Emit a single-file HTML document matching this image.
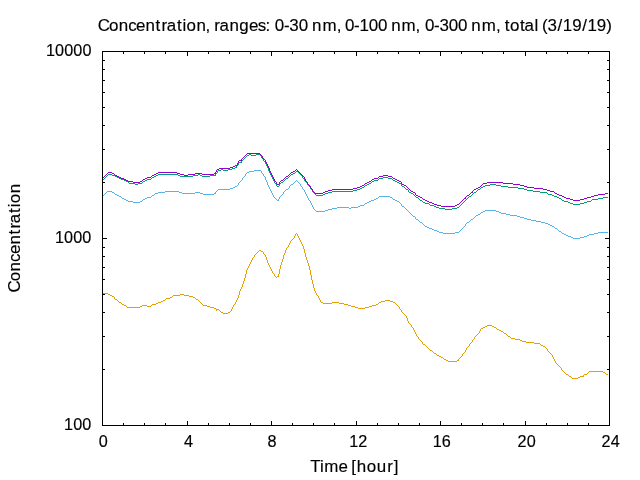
<!DOCTYPE html>
<html lang="en">
<head>
<meta charset="utf-8">
<title>Concentration, ranges: 0-30 nm, 0-100 nm, 0-300 nm, total (3/19/19)</title>
<style>
html,body{margin:0;padding:0;background:#fff;}
body{width:640px;height:480px;overflow:hidden;}
svg{display:block;}
text{font-family:"Liberation Sans","DejaVu Sans",sans-serif;fill:#000;stroke:#000;stroke-width:0.15px;stroke-linejoin:round;white-space:pre;}
</style>
</head>
<body>
<svg width="640" height="480" viewBox="0 0 640 480">
<rect x="0" y="0" width="640" height="480" fill="#ffffff"/>
<g class="labels">
<text class="title" transform="scale(1.04,1)" x="94.08 104.85 114.28 123.21 130.80 139.88 149.56 155.32 160.25 170.13 175.47 179.39 188.83 197.63 202.23 206.02 210.97 220.69 230.13 239.31 247.88 255.34 259.67 264.31 273.09 278.24 287.16 296.15 300.09 310.12 323.85 328.51 331.63 340.43 345.60 354.55 363.49 372.50 376.13 385.96 399.54 404.16 408.55 417.36 422.53 431.47 440.42 449.42 453.12 463.18 476.93 481.60 485.24 490.47 500.00 504.27 513.86 517.65 521.12 526.50 536.14 541.24 550.18 559.82 564.93 573.86 582.87" y="30.90" font-size="16.3">Concentration, ranges: 0-30 nm, 0-100 nm, 0-300 nm, total (3/19/19)</text>
<text class="axlabel" transform="scale(1.04,1)" x="298.33 307.71 311.83 325.53 334.31 337.83 343.08 352.71 362.28 372.38 378.61" y="471.75" font-size="16.3">Time [hour]</text>
<text class="axlabel" transform="rotate(-90) scale(1.04,1)" x="-281.36 -270.52 -261.01 -252.01 -244.35 -235.20 -225.45 -219.64 -214.65 -204.71 -199.33 -195.35 -185.84" y="20.10" font-size="16.3">Concentration</text>
</g>
<g class="ytics"><text class="tic" transform="scale(1.04,1)" x="44.13 52.93 61.73 70.53 79.33" y="56.00" font-size="15.6">10000</text><text class="tic" transform="scale(1.04,1)" x="52.78 61.58 70.38 79.18" y="243.00" font-size="15.6">1000</text><text class="tic" transform="scale(1.04,1)" x="61.58 70.38 79.18" y="430.00" font-size="15.6">100</text></g>
<g class="xtics"><text class="tic" transform="scale(1.04,1)" x="94.98" y="447.00" font-size="15.6">0</text><text class="tic" transform="scale(1.04,1)" x="176.90" y="447.00" font-size="15.6">4</text><text class="tic" transform="scale(1.04,1)" x="257.24" y="447.00" font-size="15.6">8</text><text class="tic" transform="scale(1.04,1)" x="335.71 344.51" y="447.00" font-size="15.6">12</text><text class="tic" transform="scale(1.04,1)" x="416.00 424.80" y="447.00" font-size="15.6">16</text><text class="tic" transform="scale(1.04,1)" x="497.64 506.44" y="447.00" font-size="15.6">20</text><text class="tic" transform="scale(1.04,1)" x="578.41 587.21" y="447.00" font-size="15.6">24</text></g>
<g class="series">
<path d="M103 293.5h5M108 294.5h2M110 295.5h2M112 296.5h2M114 297.5h1M114 298.5h1M115 299.5h2M117 300.5h1M118 301.5h1M119 302.5h2M121 303.5h1M122 304.5h2M124 305.5h2M126 306.5h1M127 307.5h13M140 306.5h2M142 305.5h5M147 306.5h4M151 305.5h1M152 304.5h4M156 303.5h2M158 302.5h3M161 301.5h2M163 300.5h2M165 299.5h1M166 298.5h4M170 297.5h2M172 296.5h1M173 295.5h7M180 294.5h4M184 295.5h5M189 296.5h4M193 297.5h2M195 298.5h1M196 299.5h2M198 300.5h1M199 301.5h1M200 302.5h1M201 303.5h1M202 304.5h1M203 305.5h4M207 306.5h3M210 307.5h4M214 308.5h2M216 310.5h1M216 309.5h3M219 310.5h1M220 311.5h1M221 312.5h2M223 313.5h5M228 312.5h2M230 311.5h1M231 309.5h1M231 310.5h1M232 307.5h1M232 308.5h1M233 305.5h1M233 306.5h1M234 304.5h1M235 302.5h1M235 303.5h1M236 300.5h1M236 301.5h1M237 298.5h1M237 299.5h1M238 295.5h1M238 296.5h1M238 297.5h1M239 291.5h1M239 292.5h1M239 293.5h1M239 294.5h1M240 289.5h1M240 290.5h1M241 287.5h1M241 288.5h1M242 284.5h1M242 285.5h1M242 286.5h1M243 281.5h1M243 282.5h1M243 283.5h1M244 278.5h1M244 279.5h1M244 280.5h1M245 274.5h1M245 275.5h1M245 276.5h1M245 277.5h1M246 270.5h1M246 271.5h1M246 272.5h1M246 273.5h1M247 268.5h1M247 269.5h1M248 266.5h1M248 267.5h1M249 264.5h1M249 265.5h1M250 262.5h1M250 263.5h1M251 260.5h1M251 261.5h1M252 258.5h1M252 259.5h1M253 257.5h1M254 255.5h1M254 256.5h1M255 254.5h1M256 253.5h1M257 252.5h1M258 251.5h1M259 250.5h2M261 251.5h2M263 252.5h1M263 253.5h1M264 254.5h1M265 255.5h1M265 256.5h1M266 257.5h1M266 258.5h1M266 259.5h1M267 260.5h1M267 261.5h1M267 262.5h1M268 263.5h1M268 264.5h1M269 265.5h1M269 266.5h1M270 267.5h1M270 268.5h1M271 269.5h1M271 270.5h1M272 271.5h1M272 272.5h1M273 273.5h1M274 274.5h1M274 275.5h1M275 276.5h1M276 277.5h1M277 276.5h2M278 274.5h1M278 275.5h1M279 269.5h1M279 270.5h1M279 271.5h1M279 272.5h1M279 273.5h1M280 265.5h1M280 266.5h1M280 267.5h1M280 268.5h1M281 262.5h1M281 263.5h1M281 264.5h1M282 259.5h1M282 260.5h1M282 261.5h1M283 255.5h1M283 256.5h1M283 257.5h1M283 258.5h1M284 253.5h1M284 254.5h1M285 250.5h1M285 251.5h1M285 252.5h1M286 248.5h1M286 249.5h1M287 247.5h1M288 245.5h1M288 246.5h1M289 243.5h1M289 244.5h1M290 241.5h1M290 242.5h1M291 240.5h1M292 239.5h1M293 238.5h1M294 236.5h1M294 237.5h1M295 234.5h1M295 235.5h1M296 233.5h1M297 234.5h1M297 235.5h1M298 236.5h1M298 237.5h1M299 238.5h1M299 239.5h1M300 240.5h1M300 241.5h1M301 242.5h1M301 243.5h1M302 244.5h1M302 245.5h1M303 246.5h1M303 247.5h1M303 248.5h1M304 249.5h1M304 250.5h1M304 251.5h1M304 252.5h1M305 253.5h1M305 254.5h1M305 255.5h1M305 256.5h1M306 257.5h1M306 258.5h1M306 259.5h1M307 260.5h1M307 261.5h1M307 262.5h1M308 263.5h1M308 264.5h1M308 265.5h1M309 266.5h1M309 267.5h1M309 268.5h1M309 269.5h1M310 270.5h1M310 271.5h1M310 272.5h1M310 273.5h1M310 274.5h1M311 275.5h1M311 276.5h1M311 277.5h1M311 278.5h1M311 279.5h1M312 280.5h1M312 281.5h1M312 282.5h1M312 283.5h1M313 284.5h1M313 285.5h1M313 286.5h1M313 287.5h1M314 288.5h1M314 289.5h1M314 290.5h1M315 291.5h1M315 292.5h1M316 293.5h1M316 294.5h1M317 295.5h1M318 296.5h1M318 297.5h1M319 298.5h1M319 299.5h1M320 300.5h1M320 301.5h1M321 302.5h2M323 303.5h9M332 302.5h7M339 303.5h5M344 304.5h4M348 305.5h3M351 306.5h4M355 307.5h3M358 308.5h7M365 307.5h4M369 306.5h3M372 305.5h4M376 304.5h2M378 303.5h1M379 302.5h2M381 301.5h4M385 300.5h5M390 301.5h3M393 302.5h2M395 303.5h1M396 304.5h1M397 305.5h1M398 306.5h1M399 307.5h1M399 308.5h1M400 309.5h1M401 310.5h1M401 311.5h1M402 312.5h1M403 313.5h1M404 314.5h1M405 315.5h1M406 316.5h1M406 317.5h1M407 318.5h1M407 319.5h1M407 320.5h1M408 321.5h1M408 322.5h1M409 323.5h1M410 324.5h1M411 325.5h1M411 326.5h1M412 327.5h1M413 328.5h1M413 329.5h1M414 330.5h1M414 331.5h1M415 332.5h1M415 333.5h1M416 334.5h1M416 335.5h1M417 336.5h1M418 337.5h1M418 338.5h1M419 339.5h1M420 340.5h1M421 341.5h1M422 342.5h1M422 343.5h1M423 344.5h2M425 345.5h1M426 346.5h1M427 347.5h1M428 348.5h1M429 349.5h1M430 350.5h2M432 351.5h1M433 352.5h1M434 353.5h2M436 354.5h1M437 355.5h2M439 356.5h2M441 357.5h2M443 358.5h1M444 359.5h2M446 360.5h2M448 361.5h9M457 360.5h2M458 359.5h1M459 358.5h1M460 357.5h1M461 356.5h1M462 354.5h1M462 355.5h1M463 353.5h1M464 352.5h1M465 350.5h1M465 351.5h1M466 348.5h1M466 349.5h1M467 347.5h1M468 346.5h1M469 344.5h1M469 345.5h1M470 343.5h1M471 342.5h1M472 340.5h1M472 341.5h1M473 339.5h1M474 337.5h1M474 338.5h1M475 336.5h1M476 335.5h1M477 334.5h1M478 333.5h1M479 331.5h1M479 332.5h1M480 329.5h1M480 330.5h1M481 328.5h2M483 327.5h2M485 326.5h2M487 325.5h5M492 326.5h2M494 327.5h2M496 328.5h1M497 329.5h2M499 330.5h2M501 331.5h2M503 332.5h1M504 333.5h2M506 334.5h1M507 335.5h1M508 336.5h2M510 337.5h1M511 338.5h4M515 339.5h5M520 340.5h2M522 341.5h4M526 342.5h8M534 343.5h6M540 344.5h1M541 345.5h2M543 346.5h2M545 347.5h1M546 348.5h1M547 349.5h1M547 350.5h1M548 351.5h1M549 352.5h1M550 353.5h1M551 354.5h1M552 355.5h1M552 356.5h1M553 357.5h1M553 358.5h1M554 359.5h1M554 360.5h1M555 361.5h1M555 362.5h1M556 363.5h1M557 364.5h1M558 365.5h1M559 366.5h1M560 367.5h1M561 368.5h1M561 369.5h1M562 370.5h1M563 371.5h1M564 372.5h1M565 373.5h1M566 374.5h2M568 375.5h1M569 376.5h2M571 377.5h1M572 378.5h6M578 377.5h2M580 376.5h4M583 375.5h1M584 374.5h3M587 373.5h1M588 372.5h1M589 371.5h14M603 372.5h2M605 373.5h1M606 374.5h2" fill="none" stroke="#e69f00" stroke-width="1" shape-rendering="crispEdges"/>
<path d="M103 195.5h1M104 194.5h1M105 193.5h1M106 192.5h1M107 191.5h5M112 192.5h2M114 193.5h1M115 194.5h2M117 195.5h2M119 196.5h2M121 197.5h1M122 198.5h2M124 199.5h2M126 200.5h2M128 201.5h5M133 202.5h7M140 201.5h2M142 200.5h1M143 199.5h2M145 198.5h2M147 197.5h4M151 196.5h1M152 195.5h2M154 194.5h1M155 193.5h3M158 192.5h7M165 191.5h14M179 192.5h3M182 193.5h13M195 192.5h5M200 193.5h3M203 194.5h11M214 193.5h2M215 192.5h1M216 191.5h1M217 190.5h1M218 189.5h12M230 188.5h3M233 187.5h2M235 186.5h2M237 185.5h1M238 183.5h1M238 184.5h1M239 182.5h1M240 181.5h1M241 180.5h1M242 178.5h1M242 179.5h1M243 177.5h1M244 176.5h1M245 174.5h1M245 175.5h1M246 173.5h1M247 172.5h2M249 171.5h5M254 170.5h7M261 171.5h1M261 172.5h1M262 173.5h1M263 174.5h1M263 175.5h1M264 176.5h1M265 177.5h1M265 178.5h1M265 179.5h1M266 180.5h1M266 181.5h1M267 182.5h1M267 183.5h1M267 184.5h1M268 185.5h1M268 186.5h1M269 187.5h1M269 188.5h1M270 189.5h1M270 190.5h1M271 191.5h1M271 192.5h1M272 193.5h1M272 194.5h1M273 195.5h1M273 196.5h1M274 197.5h1M275 198.5h1M276 199.5h1M277 200.5h2M278 199.5h1M279 197.5h1M279 198.5h1M280 196.5h1M281 195.5h1M282 194.5h1M283 192.5h1M283 193.5h1M284 191.5h1M285 190.5h1M286 189.5h2M288 188.5h1M289 186.5h1M289 187.5h1M290 185.5h1M291 184.5h2M293 183.5h1M294 182.5h1M295 181.5h1M296 180.5h1M297 181.5h1M298 182.5h1M299 183.5h1M300 184.5h1M300 185.5h1M301 186.5h1M302 187.5h1M302 188.5h1M303 189.5h1M304 190.5h1M304 191.5h1M305 192.5h1M305 193.5h1M306 194.5h1M306 195.5h1M307 196.5h1M307 197.5h1M308 198.5h1M308 199.5h1M309 200.5h1M310 201.5h1M310 202.5h1M311 203.5h1M311 204.5h1M312 205.5h1M312 206.5h1M313 207.5h1M313 208.5h1M314 209.5h1M315 210.5h1M316 211.5h9M325 210.5h3M328 209.5h4M332 208.5h5M337 207.5h12M349 208.5h2M351 207.5h7M358 206.5h2M360 205.5h4M364 204.5h1M365 203.5h2M367 202.5h2M369 201.5h2M371 200.5h3M374 199.5h2M376 198.5h2M378 197.5h1M379 196.5h11M390 197.5h2M392 198.5h1M393 199.5h2M395 200.5h2M397 201.5h2M399 202.5h1M400 203.5h1M401 204.5h1M401 205.5h1M402 206.5h2M404 207.5h1M405 208.5h1M406 209.5h1M407 210.5h1M408 211.5h1M409 212.5h1M410 213.5h1M411 214.5h1M412 215.5h1M413 216.5h2M415 217.5h1M415 218.5h1M416 219.5h2M418 220.5h1M419 221.5h1M420 222.5h2M422 223.5h1M423 224.5h1M424 225.5h1M425 226.5h2M427 227.5h2M429 228.5h3M432 229.5h2M434 230.5h3M437 231.5h2M439 232.5h4M443 233.5h12M455 232.5h4M459 231.5h1M460 230.5h1M461 229.5h1M462 228.5h1M463 227.5h1M464 226.5h1M465 224.5h1M465 225.5h1M466 223.5h1M467 222.5h2M469 221.5h1M470 220.5h1M471 219.5h2M473 218.5h1M474 217.5h1M475 216.5h1M476 215.5h2M478 214.5h2M480 213.5h1M481 212.5h2M483 211.5h2M485 210.5h11M496 211.5h3M499 212.5h2M501 213.5h5M506 214.5h4M510 215.5h7M517 216.5h3M520 217.5h4M524 218.5h3M527 219.5h4M531 220.5h5M536 221.5h5M541 222.5h4M545 223.5h3M548 224.5h2M550 225.5h2M552 226.5h2M554 227.5h1M555 228.5h2M557 229.5h1M558 230.5h1M559 231.5h2M561 232.5h1M562 233.5h2M564 234.5h2M566 235.5h2M568 236.5h3M571 237.5h2M573 238.5h7M580 237.5h4M584 236.5h3M587 235.5h2M589 234.5h5M594 233.5h4M598 232.5h10" fill="none" stroke="#56b4e9" stroke-width="1" shape-rendering="crispEdges"/>
<path d="M103 179.5h1M104 178.5h1M105 177.5h1M106 176.5h1M107 175.5h1M108 174.5h4M112 175.5h3M115 176.5h2M117 177.5h2M119 178.5h2M121 179.5h3M124 180.5h2M126 181.5h2M128 182.5h1M129 183.5h6M135 184.5h3M138 183.5h4M142 182.5h1M143 181.5h2M145 180.5h2M147 179.5h4M151 178.5h1M152 177.5h2M154 176.5h2M156 175.5h2M158 174.5h20M178 175.5h2M180 176.5h13M193 175.5h5M198 174.5h2M200 175.5h2M202 176.5h8M210 175.5h6M215 174.5h1M216 173.5h1M217 171.5h1M217 172.5h1M218 170.5h3M221 169.5h2M223 170.5h5M228 169.5h4M232 168.5h3M235 167.5h2M236 166.5h1M237 165.5h1M238 163.5h1M238 164.5h1M239 162.5h3M241 161.5h1M242 160.5h1M243 159.5h1M244 158.5h1M245 157.5h1M246 156.5h1M247 155.5h2M249 154.5h2M251 155.5h5M256 154.5h4M260 155.5h1M261 156.5h1M261 157.5h1M262 158.5h1M263 159.5h1M263 160.5h1M264 161.5h1M265 162.5h1M265 163.5h1M266 164.5h1M266 165.5h1M267 166.5h1M267 167.5h1M268 168.5h1M268 169.5h1M268 170.5h1M269 171.5h1M269 172.5h1M270 173.5h1M270 174.5h1M271 175.5h1M271 176.5h1M272 177.5h1M272 178.5h1M273 179.5h1M273 180.5h1M274 181.5h1M274 182.5h1M275 183.5h1M276 184.5h1M276 185.5h1M277 186.5h2M279 184.5h1M279 185.5h1M280 183.5h1M281 182.5h2M283 181.5h1M284 180.5h1M285 179.5h1M286 178.5h2M288 177.5h1M289 176.5h1M290 175.5h1M291 174.5h2M293 173.5h2M295 172.5h1M296 171.5h2M298 172.5h1M299 173.5h1M300 174.5h1M301 175.5h1M302 176.5h1M302 177.5h1M303 178.5h1M304 179.5h1M304 180.5h1M305 181.5h1M306 182.5h1M307 183.5h1M307 184.5h1M308 185.5h1M309 186.5h1M310 187.5h1M310 188.5h1M311 189.5h1M312 190.5h1M312 191.5h1M313 192.5h1M314 193.5h1M315 194.5h1M316 195.5h7M323 194.5h2M325 193.5h3M328 192.5h4M332 191.5h21M353 190.5h4M357 189.5h3M360 188.5h2M362 187.5h2M364 186.5h1M365 185.5h2M367 184.5h2M369 183.5h2M371 182.5h1M372 181.5h2M374 180.5h4M378 179.5h1M379 178.5h4M383 177.5h5M388 178.5h4M392 179.5h1M393 180.5h2M395 181.5h2M397 182.5h2M399 183.5h2M401 184.5h1M401 185.5h1M402 186.5h2M404 187.5h1M405 188.5h1M406 189.5h2M408 190.5h1M408 191.5h1M409 192.5h2M411 193.5h2M413 194.5h1M414 195.5h1M415 196.5h1M416 197.5h2M418 198.5h1M419 199.5h1M420 200.5h2M422 201.5h1M423 202.5h2M425 203.5h4M429 204.5h1M430 205.5h4M434 206.5h2M436 207.5h3M439 208.5h6M445 209.5h7M452 208.5h5M457 207.5h2M459 206.5h1M460 205.5h1M461 204.5h1M462 203.5h1M463 202.5h1M464 201.5h1M465 200.5h1M466 199.5h1M467 198.5h1M468 197.5h1M469 196.5h2M471 195.5h1M472 194.5h1M473 193.5h1M474 192.5h2M476 191.5h1M477 190.5h1M478 189.5h2M480 188.5h1M481 187.5h2M483 186.5h2M485 185.5h5M490 184.5h6M496 185.5h5M501 186.5h7M508 187.5h10M518 188.5h6M524 189.5h3M527 190.5h6M533 191.5h7M540 192.5h7M547 193.5h1M548 194.5h4M552 195.5h2M554 196.5h3M557 197.5h2M559 198.5h2M561 199.5h1M562 200.5h2M564 201.5h4M568 202.5h2M570 203.5h3M573 204.5h7M580 203.5h4M584 202.5h3M587 201.5h4M591 200.5h1M592 199.5h6M598 198.5h5M603 197.5h5" fill="none" stroke="#009e73" stroke-width="1" shape-rendering="crispEdges"/>
<path d="M103 177.5h1M104 176.5h1M105 175.5h1M106 174.5h1M107 173.5h1M108 172.5h4M112 173.5h2M114 174.5h1M115 175.5h2M117 176.5h2M119 177.5h2M121 178.5h3M124 179.5h2M126 180.5h2M128 181.5h5M133 182.5h7M140 181.5h2M142 180.5h1M143 179.5h2M145 178.5h2M147 177.5h4M151 176.5h1M152 175.5h2M154 174.5h2M156 173.5h2M158 172.5h19M177 173.5h3M180 174.5h4M184 175.5h4M188 174.5h7M195 173.5h7M202 174.5h12M214 173.5h2M215 172.5h1M216 170.5h1M216 171.5h1M217 169.5h2M219 168.5h11M230 167.5h3M233 166.5h2M235 165.5h2M237 163.5h1M237 164.5h1M238 161.5h1M238 162.5h1M239 160.5h3M241 159.5h1M242 158.5h1M243 157.5h1M244 156.5h1M245 155.5h1M246 154.5h1M247 153.5h13M260 154.5h1M261 155.5h1M262 156.5h1M262 157.5h1M263 158.5h1M264 159.5h1M265 160.5h1M265 161.5h1M266 162.5h1M266 163.5h1M267 164.5h1M267 165.5h1M268 166.5h1M268 167.5h1M269 168.5h1M269 169.5h1M269 170.5h1M270 171.5h1M270 172.5h1M271 173.5h1M271 174.5h1M272 175.5h1M272 176.5h1M273 177.5h1M273 178.5h1M274 179.5h1M274 180.5h1M275 181.5h1M276 182.5h1M276 183.5h1M277 184.5h2M279 182.5h1M279 183.5h1M280 181.5h1M281 180.5h2M283 179.5h1M284 178.5h1M285 177.5h1M286 176.5h2M288 175.5h1M289 174.5h1M290 173.5h1M291 172.5h2M293 171.5h2M295 170.5h1M296 169.5h1M297 170.5h1M298 171.5h1M299 172.5h1M300 173.5h1M301 174.5h1M302 175.5h1M303 176.5h1M304 177.5h1M304 178.5h1M305 179.5h1M305 180.5h1M306 181.5h1M307 182.5h1M307 183.5h1M308 184.5h1M309 185.5h1M310 186.5h1M310 187.5h1M311 188.5h1M312 189.5h1M312 190.5h1M313 191.5h1M314 192.5h1M315 193.5h8M323 192.5h2M325 191.5h3M328 190.5h4M332 189.5h21M353 188.5h4M357 187.5h3M360 186.5h2M362 185.5h2M364 184.5h1M365 183.5h2M367 182.5h2M369 181.5h2M371 180.5h1M372 179.5h2M374 178.5h4M378 177.5h1M379 176.5h4M383 175.5h5M388 176.5h4M392 177.5h1M393 178.5h2M395 179.5h2M397 180.5h2M399 181.5h2M401 182.5h1M401 183.5h1M402 184.5h2M404 185.5h2M406 186.5h1M407 187.5h1M408 188.5h1M409 189.5h1M410 190.5h1M411 191.5h2M413 192.5h2M415 193.5h1M415 194.5h1M416 195.5h2M418 196.5h2M420 197.5h2M422 198.5h1M423 199.5h2M425 200.5h2M427 201.5h2M429 202.5h3M432 203.5h2M434 204.5h3M437 205.5h4M441 206.5h14M455 205.5h2M457 204.5h2M459 203.5h1M460 202.5h1M461 201.5h1M462 200.5h1M463 199.5h1M464 198.5h2M465 197.5h1M466 196.5h1M467 195.5h2M469 194.5h1M470 193.5h1M471 192.5h2M472 191.5h1M473 190.5h1M474 189.5h2M476 188.5h2M478 187.5h2M480 186.5h1M481 185.5h1M482 184.5h1M483 183.5h4M487 182.5h16M503 183.5h10M513 184.5h7M520 185.5h4M524 186.5h3M527 187.5h7M534 188.5h9M543 189.5h4M547 190.5h3M550 191.5h4M554 192.5h1M555 193.5h2M557 194.5h2M559 195.5h3M562 196.5h2M564 197.5h2M566 198.5h4M570 199.5h3M573 200.5h7M580 199.5h4M584 198.5h3M587 197.5h4M591 196.5h3M594 195.5h4M598 194.5h7M605 193.5h3" fill="none" stroke="#9400d3" stroke-width="1" shape-rendering="crispEdges"/>
</g>
<path class="tics" d="M102.5 425.5v-4.5M102.5 51.5v4.5M123.5 425.5v-2.5M123.5 51.5v2.5M144.5 425.5v-2.5M144.5 51.5v2.5M165.5 425.5v-2.5M165.5 51.5v2.5M187.5 425.5v-4.5M187.5 51.5v4.5M208.5 425.5v-2.5M208.5 51.5v2.5M229.5 425.5v-2.5M229.5 51.5v2.5M250.5 425.5v-2.5M250.5 51.5v2.5M271.5 425.5v-4.5M271.5 51.5v4.5M292.5 425.5v-2.5M292.5 51.5v2.5M313.5 425.5v-2.5M313.5 51.5v2.5M334.5 425.5v-2.5M334.5 51.5v2.5M356.5 425.5v-4.5M356.5 51.5v4.5M377.5 425.5v-2.5M377.5 51.5v2.5M398.5 425.5v-2.5M398.5 51.5v2.5M419.5 425.5v-2.5M419.5 51.5v2.5M440.5 425.5v-4.5M440.5 51.5v4.5M461.5 425.5v-2.5M461.5 51.5v2.5M482.5 425.5v-2.5M482.5 51.5v2.5M503.5 425.5v-2.5M503.5 51.5v2.5M525.5 425.5v-4.5M525.5 51.5v4.5M546.5 425.5v-2.5M546.5 51.5v2.5M567.5 425.5v-2.5M567.5 51.5v2.5M588.5 425.5v-2.5M588.5 51.5v2.5M609.5 425.5v-4.5M609.5 51.5v4.5M102.5 425.5h4.5M609.5 425.5h-4.5M102.5 369.5h2.5M609.5 369.5h-2.5M102.5 336.5h2.5M609.5 336.5h-2.5M102.5 312.5h2.5M609.5 312.5h-2.5M102.5 294.5h2.5M609.5 294.5h-2.5M102.5 279.5h2.5M609.5 279.5h-2.5M102.5 267.5h2.5M609.5 267.5h-2.5M102.5 256.5h2.5M609.5 256.5h-2.5M102.5 247.5h2.5M609.5 247.5h-2.5M102.5 238.5h4.5M609.5 238.5h-4.5M102.5 182.5h2.5M609.5 182.5h-2.5M102.5 149.5h2.5M609.5 149.5h-2.5M102.5 125.5h2.5M609.5 125.5h-2.5M102.5 107.5h2.5M609.5 107.5h-2.5M102.5 92.5h2.5M609.5 92.5h-2.5M102.5 80.5h2.5M609.5 80.5h-2.5M102.5 69.5h2.5M609.5 69.5h-2.5M102.5 60.5h2.5M609.5 60.5h-2.5" fill="none" stroke="#000" stroke-width="1"/>
<rect class="border" x="102.5" y="51.5" width="507.0" height="374.0" fill="none" stroke="#000" stroke-width="1"/>
</svg>
</body>
</html>
